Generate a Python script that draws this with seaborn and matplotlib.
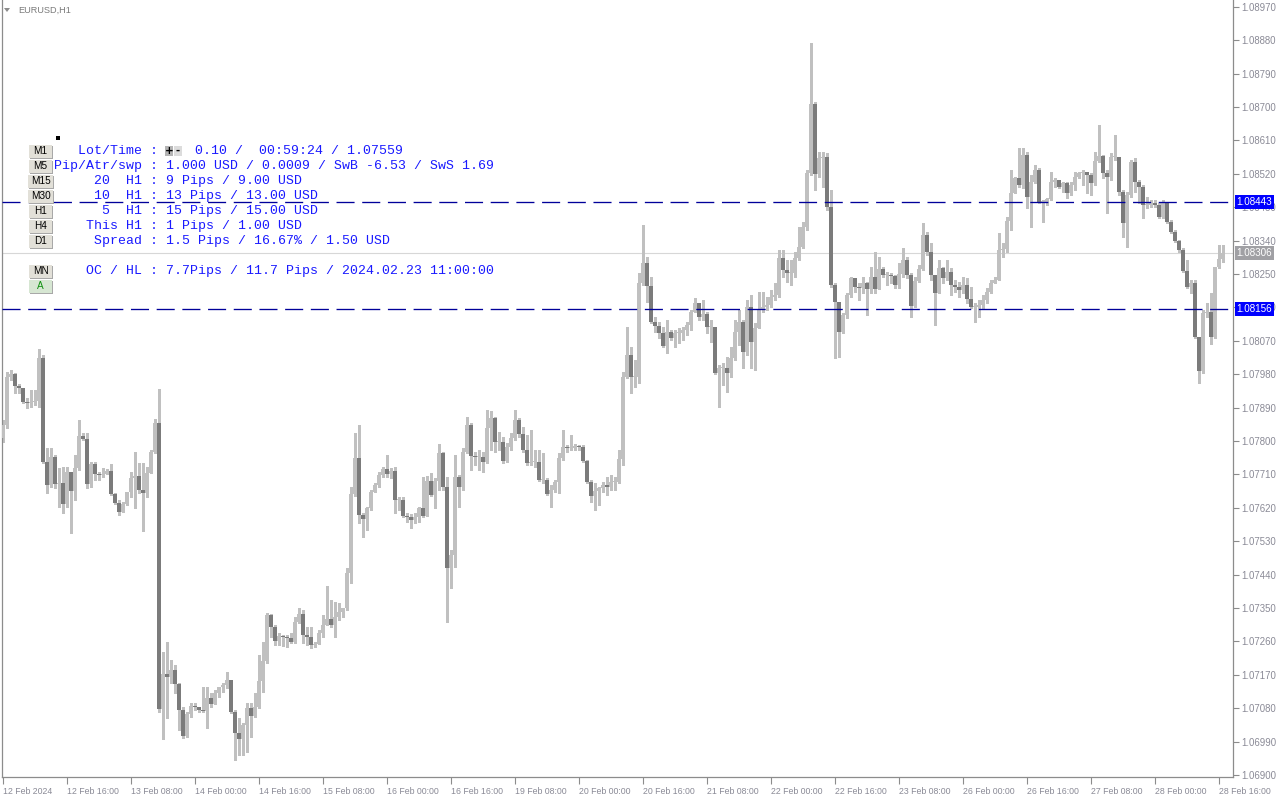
import numpy as np
import matplotlib
matplotlib.use("Agg")
import matplotlib.pyplot as plt
import seaborn as sns
from matplotlib.patches import Rectangle, Polygon

# ---------------- data ----------------
symbol_label = "EURUSD,H1"
first_open = 1.07808
closes = [
    1.07843, 1.07973, 1.07981, 1.07948, 1.07943, 1.07905, 1.07903, 1.07905, 1.07908, 1.08024,
    1.07744, 1.07682, 1.07757, 1.07684, 1.07687, 1.07630, 1.07717, 1.07665, 1.07727, 1.07814,
    1.07806, 1.07684, 1.07738, 1.07711, 1.07709, 1.07711, 1.07719, 1.07657, 1.07633, 1.07609,
    1.07630, 1.07663, 1.07700, 1.07706, 1.07668, 1.07660, 1.07714, 1.07770, 1.07849, 1.07078,
    1.07172, 1.07164, 1.07183, 1.07145, 1.07075, 1.07005, 1.07064, 1.07086, 1.07083, 1.07075,
    1.07072, 1.07108, 1.07091, 1.07121, 1.07137, 1.07143, 1.07156, 1.07070, 1.07013, 1.06997,
    1.07035, 1.07081, 1.07059, 1.07083, 1.07153, 1.07207, 1.07331, 1.07299, 1.07261, 1.07275,
    1.07272, 1.07269, 1.07258, 1.07312, 1.07334, 1.07277, 1.07272, 1.07250, 1.07253, 1.07283,
    1.07304, 1.07320, 1.07304, 1.07326, 1.07339, 1.07350, 1.07444, 1.07657, 1.07754, 1.07601,
    1.07590, 1.07620, 1.07663, 1.07682, 1.07709, 1.07725, 1.07711, 1.07719, 1.07641, 1.07641,
    1.07598, 1.07595, 1.07587, 1.07595, 1.07620, 1.07598, 1.07692, 1.07655, 1.07692, 1.07768,
    1.07676, 1.07458, 1.07493, 1.07703, 1.07676, 1.07770, 1.07843, 1.07760, 1.07757, 1.07757,
    1.07744, 1.07835, 1.07862, 1.07797, 1.07797, 1.07746, 1.07784, 1.07808, 1.07857, 1.07819,
    1.07776, 1.07741, 1.07744, 1.07744, 1.07695, 1.07695, 1.07657, 1.07668, 1.07690, 1.07754,
    1.07784, 1.07781, 1.07781, 1.07787, 1.07784, 1.07746, 1.07690, 1.07652, 1.07665, 1.07673,
    1.07682, 1.07676, 1.07690, 1.07690, 1.07752, 1.07973, 1.08032, 1.07973, 1.07973, 1.08226,
    1.08280, 1.08218, 1.08121, 1.08110, 1.08091, 1.08056, 1.08094, 1.08078, 1.08091, 1.08091,
    1.08099, 1.08113, 1.08148, 1.08172, 1.08134, 1.08142, 1.08107, 1.08107, 1.07983, 1.07997,
    1.07997, 1.07983, 1.08024, 1.08094, 1.08121, 1.08040, 1.08161, 1.08067, 1.08105, 1.08153,
    1.08161, 1.08167, 1.08188, 1.08194, 1.08293, 1.08261, 1.08253, 1.08253, 1.08293, 1.08323,
    1.08377, 1.08522, 1.08708, 1.08520, 1.08563, 1.08566, 1.08431, 1.08221, 1.08175, 1.08094,
    1.08140, 1.08194, 1.08239, 1.08215, 1.08212, 1.08226, 1.08210, 1.08242, 1.08210, 1.08264,
    1.08247, 1.08247, 1.08245, 1.08221, 1.08250, 1.08288, 1.08247, 1.08164, 1.08231, 1.08264,
    1.08355, 1.08309, 1.08247, 1.08199, 1.08266, 1.08239, 1.08256, 1.08221, 1.08215, 1.08207,
    1.08221, 1.08183, 1.08161, 1.08161, 1.08167, 1.08180, 1.08202, 1.08226, 1.08234, 1.08315,
    1.08318, 1.08393, 1.08469, 1.08509, 1.08490, 1.08571, 1.08458, 1.08498, 1.08531, 1.08444,
    1.08444, 1.08452, 1.08498, 1.08504, 1.08485, 1.08495, 1.08469, 1.08490, 1.08512, 1.08522,
    1.08525, 1.08517, 1.08495, 1.08555, 1.08568, 1.08522, 1.08512, 1.08566, 1.08566, 1.08471,
    1.08388, 1.08463, 1.08552, 1.08498, 1.08485, 1.08436, 1.08436, 1.08442, 1.08436, 1.08404,
    1.08442, 1.08390, 1.08363, 1.08339, 1.08315, 1.08258, 1.08215, 1.08226, 1.08080, 1.07989,
    1.08145, 1.08148, 1.08080, 1.08269, 1.08291, 1.08306,
]
highs = [
    1.07857, 1.07986, 1.07991, 1.07983, 1.07954, 1.07940, 1.07916, 1.07938, 1.07938, 1.08048,
    1.08032, 1.07781, 1.07781, 1.07762, 1.07727, 1.07730, 1.07730, 1.07714, 1.07762, 1.07857,
    1.07822, 1.07822, 1.07744, 1.07744, 1.07717, 1.07727, 1.07725, 1.07738, 1.07660, 1.07641,
    1.07636, 1.07663, 1.07717, 1.07770, 1.07741, 1.07741, 1.07730, 1.07776, 1.07859, 1.07940,
    1.07232, 1.07258, 1.07210, 1.07196, 1.07148, 1.07083, 1.07070, 1.07094, 1.07094, 1.07083,
    1.07137, 1.07137, 1.07121, 1.07129, 1.07137, 1.07148, 1.07178, 1.07156, 1.07075, 1.07054,
    1.07040, 1.07094, 1.07094, 1.07121, 1.07223, 1.07258, 1.07337, 1.07334, 1.07304, 1.07283,
    1.07277, 1.07277, 1.07283, 1.07326, 1.07350, 1.07345, 1.07299, 1.07299, 1.07258, 1.07291,
    1.07331, 1.07409, 1.07372, 1.07366, 1.07364, 1.07350, 1.07458, 1.07676, 1.07822, 1.07843,
    1.07606, 1.07622, 1.07668, 1.07687, 1.07717, 1.07730, 1.07762, 1.07727, 1.07730, 1.07649,
    1.07649, 1.07606, 1.07603, 1.07606, 1.07622, 1.07703, 1.07706, 1.07714, 1.07700, 1.07792,
    1.07770, 1.07703, 1.07506, 1.07762, 1.07709, 1.07781, 1.07865, 1.07849, 1.07770, 1.07776,
    1.07770, 1.07884, 1.07881, 1.07865, 1.07824, 1.07811, 1.07795, 1.07822, 1.07884, 1.07862,
    1.07838, 1.07816, 1.07830, 1.07776, 1.07776, 1.07768, 1.07700, 1.07682, 1.07695, 1.07768,
    1.07830, 1.07789, 1.07816, 1.07792, 1.07789, 1.07789, 1.07749, 1.07695, 1.07687, 1.07676,
    1.07690, 1.07703, 1.07709, 1.07703, 1.07776, 1.07986, 1.08107, 1.08053, 1.08018, 1.08253,
    1.08382, 1.08296, 1.08242, 1.08134, 1.08121, 1.08107, 1.08126, 1.08099, 1.08099, 1.08105,
    1.08107, 1.08121, 1.08153, 1.08186, 1.08172, 1.08180, 1.08148, 1.08126, 1.08107, 1.08005,
    1.08010, 1.08027, 1.08053, 1.08126, 1.08153, 1.08126, 1.08180, 1.08194, 1.08118, 1.08202,
    1.08202, 1.08188, 1.08207, 1.08226, 1.08315, 1.08315, 1.08288, 1.08288, 1.08309, 1.08377,
    1.08390, 1.08531, 1.08873, 1.08714, 1.08579, 1.08579, 1.08576, 1.08477, 1.08226, 1.08175,
    1.08145, 1.08199, 1.08242, 1.08239, 1.08226, 1.08242, 1.08229, 1.08269, 1.08309, 1.08296,
    1.08269, 1.08256, 1.08253, 1.08247, 1.08280, 1.08320, 1.08296, 1.08253, 1.08242, 1.08274,
    1.08388, 1.08363, 1.08334, 1.08247, 1.08288, 1.08269, 1.08288, 1.08266, 1.08234, 1.08229,
    1.08242, 1.08239, 1.08215, 1.08172, 1.08180, 1.08194, 1.08212, 1.08234, 1.08242, 1.08361,
    1.08334, 1.08404, 1.08531, 1.08512, 1.08590, 1.08590, 1.08579, 1.08517, 1.08544, 1.08536,
    1.08450, 1.08455, 1.08525, 1.08509, 1.08504, 1.08498, 1.08498, 1.08498, 1.08525, 1.08525,
    1.08531, 1.08525, 1.08522, 1.08579, 1.08652, 1.08571, 1.08531, 1.08576, 1.08625, 1.08566,
    1.08477, 1.08471, 1.08557, 1.08563, 1.08504, 1.08490, 1.08458, 1.08450, 1.08450, 1.08442,
    1.08450, 1.08442, 1.08396, 1.08369, 1.08342, 1.08320, 1.08288, 1.08234, 1.08234, 1.08080,
    1.08153, 1.08172, 1.08199, 1.08269, 1.08328, 1.08328,
]
lows = [
    1.07797, 1.07835, 1.07965, 1.07929, 1.07929, 1.07903, 1.07889, 1.07892, 1.07897, 1.07892,
    1.07741, 1.07660, 1.07676, 1.07673, 1.07622, 1.07606, 1.07622, 1.07552, 1.07641, 1.07722,
    1.07803, 1.07673, 1.07676, 1.07695, 1.07695, 1.07703, 1.07714, 1.07655, 1.07630, 1.07601,
    1.07609, 1.07628, 1.07649, 1.07620, 1.07660, 1.07558, 1.07649, 1.07714, 1.07768, 1.07070,
    1.06997, 1.07054, 1.07148, 1.07121, 1.07021, 1.07000, 1.07002, 1.07056, 1.07075, 1.07070,
    1.07070, 1.07027, 1.07083, 1.07094, 1.07110, 1.07124, 1.07134, 1.07067, 1.06940, 1.06954,
    1.06954, 1.06962, 1.07002, 1.07056, 1.07081, 1.07124, 1.07202, 1.07272, 1.07250, 1.07250,
    1.07248, 1.07245, 1.07255, 1.07256, 1.07310, 1.07256, 1.07250, 1.07242, 1.07245, 1.07256,
    1.07272, 1.07310, 1.07299, 1.07272, 1.07318, 1.07326, 1.07345, 1.07417, 1.07652, 1.07579,
    1.07541, 1.07560, 1.07614, 1.07668, 1.07676, 1.07703, 1.07703, 1.07700, 1.07606, 1.07614,
    1.07595, 1.07582, 1.07566, 1.07579, 1.07582, 1.07595, 1.07636, 1.07652, 1.07620, 1.07668,
    1.07668, 1.07312, 1.07404, 1.07461, 1.07622, 1.07668, 1.07768, 1.07722, 1.07735, 1.07722,
    1.07717, 1.07741, 1.07776, 1.07770, 1.07776, 1.07741, 1.07744, 1.07776, 1.07803, 1.07811,
    1.07770, 1.07735, 1.07735, 1.07730, 1.07692, 1.07687, 1.07655, 1.07622, 1.07663, 1.07660,
    1.07749, 1.07770, 1.07776, 1.07776, 1.07776, 1.07744, 1.07687, 1.07636, 1.07614, 1.07628,
    1.07663, 1.07655, 1.07668, 1.07668, 1.07687, 1.07735, 1.07970, 1.07929, 1.07946, 1.07956,
    1.08221, 1.08175, 1.08118, 1.08094, 1.08078, 1.08053, 1.08037, 1.08072, 1.08053, 1.08064,
    1.08072, 1.08086, 1.08099, 1.08148, 1.08126, 1.08126, 1.08091, 1.08067, 1.07981, 1.07892,
    1.07951, 1.07932, 1.07973, 1.08018, 1.08059, 1.07996, 1.08032, 1.07997, 1.07991, 1.08118,
    1.08148, 1.08153, 1.08161, 1.08180, 1.08188, 1.08242, 1.08229, 1.08221, 1.08242, 1.08288,
    1.08320, 1.08369, 1.08517, 1.08477, 1.08512, 1.08485, 1.08423, 1.08215, 1.08024, 1.08027,
    1.08091, 1.08132, 1.08188, 1.08202, 1.08180, 1.08199, 1.08140, 1.08199, 1.08199, 1.08215,
    1.08242, 1.08221, 1.08226, 1.08212, 1.08212, 1.08242, 1.08239, 1.08134, 1.08161, 1.08229,
    1.08261, 1.08301, 1.08234, 1.08113, 1.08199, 1.08226, 1.08234, 1.08194, 1.08202, 1.08188,
    1.08199, 1.08172, 1.08159, 1.08121, 1.08134, 1.08159, 1.08172, 1.08199, 1.08226, 1.08234,
    1.08296, 1.08309, 1.08369, 1.08469, 1.08485, 1.08482, 1.08428, 1.08377, 1.08495, 1.08442,
    1.08390, 1.08436, 1.08450, 1.08485, 1.08482, 1.08471, 1.08455, 1.08463, 1.08477, 1.08509,
    1.08490, 1.08469, 1.08463, 1.08490, 1.08552, 1.08509, 1.08415, 1.08504, 1.08557, 1.08463,
    1.08350, 1.08323, 1.08458, 1.08471, 1.08442, 1.08401, 1.08428, 1.08431, 1.08431, 1.08401,
    1.08401, 1.08388, 1.08361, 1.08336, 1.08309, 1.08256, 1.08212, 1.08199, 1.08078, 1.07956,
    1.07983, 1.08134, 1.08062, 1.08078, 1.08266, 1.08283,
]
xtick_labels = [
    "12 Feb 2024", "12 Feb 16:00", "13 Feb 08:00", "14 Feb 00:00", "14 Feb 16:00",
    "15 Feb 08:00", "16 Feb 00:00", "16 Feb 16:00", "19 Feb 08:00", "20 Feb 00:00",
    "20 Feb 16:00", "21 Feb 08:00", "22 Feb 00:00", "22 Feb 16:00", "23 Feb 08:00",
    "26 Feb 00:00", "26 Feb 16:00", "27 Feb 08:00", "28 Feb 00:00", "28 Feb 16:00",
]
bars_per_label = 16
ytick_values = [
    1.06900, 1.06990, 1.07080, 1.07170, 1.07260, 1.07350, 1.07440, 1.07530,
    1.07620, 1.07710, 1.07800, 1.07890, 1.07980, 1.08070, 1.08160, 1.08250,
    1.08340, 1.08430, 1.08520, 1.08610, 1.08700, 1.08790, 1.08880, 1.08970,
]
level_lines = [1.08443, 1.08156]
last_price = 1.08306

panel_labels = [
    "   Lot/Time :",
    "Pip/Atr/swp : 1.000 USD / 0.0009 / SwB -6.53 / SwS 1.69",
    "     20  H1 : 9 Pips / 9.00 USD",
    "     10  H1 : 13 Pips / 13.00 USD",
    "      5  H1 : 15 Pips / 15.00 USD",
    "    This H1 : 1 Pips / 1.00 USD",
    "     Spread : 1.5 Pips / 16.67% / 1.50 USD",
    "    OC / HL : 7.7Pips / 11.7 Pips / 2024.02.23 11:00:00",
]
lot_time_values = "0.10 /  00:59:24 / 1.07559"
panel_rows = [0, 1, 2, 3, 4, 5, 6, 8]
tf_buttons = ["M1", "M5", "M15", "M30", "H1", "H4", "D1", "MN", "A"]
tf_rows = [0, 1, 2, 3, 4, 5, 6, 8, 9]

# ---------------- style ----------------
sns.set_theme(style="white")
plt.rcParams["font.family"] = ["Liberation Sans", "DejaVu Sans"]
plt.rcParams["lines.scale_dashes"] = False

W, H = 1280, 800
fig = plt.figure(figsize=(12.8, 8), dpi=100, facecolor="white")

def fx(x):
    return x / W

def fy(y):
    return 1 - y / H

ax_left, ax_right, ax_top, ax_bottom = 2, 1233, 0, 777
ax = fig.add_axes([fx(ax_left), fy(ax_bottom), (ax_right - ax_left) / W, (ax_bottom - ax_top) / H])
ax.set_facecolor("white")

ppx = 0.00002695  # price per pixel of the reference
ymin = ytick_values[0] - (ax_bottom - 775) * ppx
ymax = ytick_values[0] + (775 - ax_top) * ppx
ax.set_ylim(ymin, ymax)
ax.set_xlim(-0.25, 307.5)

c = np.array(closes)
o = np.r_[first_open, c[:-1]]
hi = np.maximum(np.array(highs), np.maximum(o, c))
lo = np.minimum(np.array(lows), np.minimum(o, c))
idx = np.arange(len(c))
bull = c >= o

UP = "#c0c0c0"
DOWN = "#7b7b7b"
ax.axhline(last_price, color="#d7d7d7", lw=0.8, zorder=1)
ax.vlines(idx, lo, hi, color=UP, lw=0.75, zorder=2, antialiased=False)
bottom = np.minimum(o, c)
height = np.maximum(np.abs(c - o), ppx)
ax.bar(idx[bull], height[bull], bottom=bottom[bull], width=0.8, color=UP,
       linewidth=0, zorder=3, antialiased=False)
ax.bar(idx[~bull], height[~bull], bottom=bottom[~bull], width=0.8, color=DOWN,
       linewidth=0, zorder=3, antialiased=False)

for lvl in level_lines:
    ax.axhline(lvl, color="#00009a", lw=0.95, dashes=(13, 5.5), zorder=4)

# spines and ticks
for side in ["left", "bottom", "right"]:
    ax.spines[side].set_visible(True)
    ax.spines[side].set_color("#8c8c8c")
    ax.spines[side].set_linewidth(0.9)
ax.spines["top"].set_visible(False)

AXC = "#8a8a96"
ax.yaxis.tick_right()
ax.set_yticks(ytick_values)
ax.set_yticklabels([f"{v:.5f}" for v in ytick_values])
ax.tick_params(axis="y", which="both", direction="out", length=4, width=0.8,
               color="#8c8c8c", labelcolor=AXC, labelsize=6.9, pad=2, left=False, right=True)
xpos = [i * bars_per_label for i in range(len(xtick_labels))]
ax.set_xticks(xpos)
ax.set_xticklabels(xtick_labels)
ax.tick_params(axis="x", which="both", direction="out", length=5, width=0.8,
               color="#8c8c8c", labelcolor=AXC, labelsize=6.3, pad=2, bottom=True)
for lbl in ax.get_xticklabels():
    lbl.set_ha("left")
ax.grid(False)

# right-side price markers
def price_box(price, face):
    ax.annotate(f"{price:.5f}", xy=(1, price), xycoords=("axes fraction", "data"),
                xytext=(2.5, 0), textcoords="offset points", va="center", ha="left",
                fontsize=7.1, color="white", zorder=10, annotation_clip=False,
                bbox=dict(boxstyle="square,pad=0.2", fc=face, ec="none"))

price_box(level_lines[0], "#0000ff")
price_box(level_lines[1], "#0000ff")
price_box(last_price, "#a0a0a4")

# ---------------- overlay (top-left) ----------------
fig.patches.append(Polygon([[fx(4), fy(8)], [fx(10), fy(8)], [fx(7), fy(12)]],
                           closed=True, transform=fig.transFigure, fc="#8c8c8c", ec="none"))
fig.text(fx(18), fy(10), symbol_label, fontsize=6.6, color="#7a7a7a", va="center", ha="left")

# small black square
fig.patches.append(Rectangle((fx(55.5), fy(140)), 4 / W, 4 / H, transform=fig.transFigure,
                             fc="black", ec="none"))

MONO = ["Liberation Mono", "DejaVu Sans Mono"]
PANEL_BLUE = "#1a1aff"
PANEL_SIZE = 9.55
row_y0 = 151
row_dy = 15
char_w = 7.84
for row, txt in zip(panel_rows, panel_labels):
    fig.text(fx(54), fy(row_y0 + row * row_dy), txt, family=MONO,
             fontsize=PANEL_SIZE, color=PANEL_BLUE, va="center", ha="left")
fig.text(fx(54 + 18 * char_w), fy(row_y0), lot_time_values, family=MONO,
         fontsize=PANEL_SIZE, color=PANEL_BLUE, va="center", ha="left")

# +/- buttons on the first line
for bx, glyph, face in [(165, "+", "#b4b4b4"), (174, "-", "#dcdcdc")]:
    fig.patches.append(Rectangle((fx(bx), fy(156)), 8 / W, 10 / H, transform=fig.transFigure,
                                 fc=face, ec="none"))
    fig.text(fx(bx + 4), fy(151), glyph, fontsize=7.5, color="black", va="center", ha="center",
             family=["DejaVu Sans"], fontweight="bold")

# timeframe buttons
for row, name in zip(tf_rows, tf_buttons):
    yc = row_y0 + row * row_dy
    x0, w = (28, 25) if name in ("M15", "M30") else (29, 23)
    face = "#d6e6d2" if name == "A" else "#e2e0d8"
    fig.patches.append(Rectangle((fx(x0 + 1), fy(yc + 7.5)), w / W, 13 / H,
                                 transform=fig.transFigure, fc="#a8a8a8", ec="none"))
    fig.patches.append(Rectangle((fx(x0), fy(yc + 6.5)), w / W, 13 / H,
                                 transform=fig.transFigure, fc=face, ec="none"))
    fig.text(fx(x0 + w / 2), fy(yc), name, fontsize=7.2,
             color="#109010" if name == "A" else "black", va="center", ha="center")

fig.savefig("out.png", dpi=100, facecolor="white")
